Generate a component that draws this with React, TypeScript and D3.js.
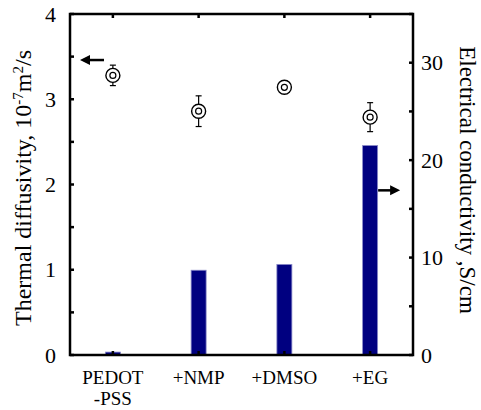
import React, { useEffect, useRef } from 'react'
import * as d3 from 'd3'

const categories = ['PEDOT\n-PSS', '+NMP', '+DMSO', '+EG']
const diffusivity = [3.28, 2.86, 3.14, 2.79]
const diffErr = [0.12, 0.18, 0.04, 0.17]
const conductivity = [0.3, 8.7, 9.3, 21.5]
const leftTicks = [0, 1, 2, 3, 4]
const rightTicks = [0, 10, 20, 30]

function App() {
  const ref = useRef<SVGSVGElement>(null)

  useEffect(() => {
    const w = 481
    const h = 410
    const m = { top: 14, right: 68, bottom: 55, left: 70 }
    const svg = d3.select(ref.current)
    svg.selectAll('*').remove()
    const font = '"Liberation Serif", "Times New Roman", serif'

    const x = d3.scalePoint<string>()
      .domain(categories)
      .range([m.left, w - m.right])
      .padding(0.5)
    const yL = d3.scaleLinear().domain([0, 4]).range([h - m.bottom, m.top])
    const yR = d3.scaleLinear().domain([0, 35]).range([h - m.bottom, m.top])

    // bars (conductivity)
    svg.append('g')
      .selectAll('rect')
      .data(conductivity)
      .join('rect')
      .attr('x', (d, i) => x(categories[i])! - 7.5)
      .attr('width', 15)
      .attr('y', d => yR(d))
      .attr('height', d => yR(0) - yR(d))
      .attr('fill', '#000080')
      .attr('stroke', '#8a8ac8')
      .attr('stroke-width', 0.8)

    // error bars + markers (diffusivity)
    const pts = svg.append('g')
    diffusivity.forEach((d, i) => {
      const cx = x(categories[i])!
      const lo = yL(d - diffErr[i])
      const hi = yL(d + diffErr[i])
      pts.append('line').attr('x1', cx).attr('x2', cx).attr('y1', lo).attr('y2', hi)
        .attr('stroke', 'black').attr('stroke-width', 1.2)
      ;[lo, hi].forEach(yy => pts.append('line')
        .attr('x1', cx - 3).attr('x2', cx + 3).attr('y1', yy).attr('y2', yy)
        .attr('stroke', 'black').attr('stroke-width', 1.2))
      pts.append('circle').attr('cx', cx).attr('cy', yL(d)).attr('r', 7)
        .attr('fill', 'white').attr('stroke', 'black').attr('stroke-width', 1.4)
      pts.append('circle').attr('cx', cx).attr('cy', yL(d)).attr('r', 3)
        .attr('fill', 'white').attr('stroke', 'black').attr('stroke-width', 1.2)
    })

    // frame
    svg.append('rect')
      .attr('x', m.left).attr('y', m.top)
      .attr('width', w - m.left - m.right).attr('height', h - m.top - m.bottom)
      .attr('fill', 'none').attr('stroke', 'black').attr('stroke-width', 2.5)

    const tk = svg.append('g').attr('stroke', 'black').attr('stroke-width', 2.5)
    // left ticks (major + minor)
    d3.range(0, 4.01, 0.5).forEach(v => {
      tk.append('line').attr('x1', m.left).attr('x2', m.left + 4)
        .attr('y1', yL(v)).attr('y2', yL(v))
    })
    // right ticks
    d3.range(0, 35.01, 5).forEach(v => {
      tk.append('line').attr('x1', w - m.right).attr('x2', w - m.right - 4)
        .attr('y1', yR(v)).attr('y2', yR(v))
    })
    // top/bottom ticks at categories
    categories.forEach(c => {
      tk.append('line').attr('x1', x(c)!).attr('x2', x(c)!)
        .attr('y1', h - m.bottom).attr('y2', h - m.bottom - 4)
      tk.append('line').attr('x1', x(c)!).attr('x2', x(c)!)
        .attr('y1', m.top).attr('y2', m.top + 4)
    })

    // tick labels
    svg.append('g').selectAll('text').data(leftTicks).join('text')
      .attr('x', m.left - 14).attr('y', d => yL(d)).attr('dy', '0.35em')
      .attr('text-anchor', 'end').attr('font-family', font).attr('font-size', 22)
      .text(d => d)
    svg.append('g').selectAll('text').data(rightTicks).join('text')
      .attr('x', w - m.right + 8).attr('y', d => yR(d)).attr('dy', '0.35em')
      .attr('text-anchor', 'start').attr('font-family', font).attr('font-size', 22)
      .text(d => d)
    categories.forEach(c => {
      c.split('\n').forEach((s, j) => {
        svg.append('text')
          .attr('x', x(c)!).attr('y', h - m.bottom + 29 + j * 21)
          .attr('text-anchor', 'middle').attr('font-family', font).attr('font-size', 19)
          .text(s)
      })
    })

    // axis titles
    const lt = svg.append('text')
      .attr('transform', `translate(31, 188) rotate(-90)`)
      .attr('text-anchor', 'middle').attr('font-family', font).attr('font-size', 24)
    lt.append('tspan').text('Thermal diffusivity, 10')
    lt.append('tspan').attr('baseline-shift', 'super').attr('font-size', 15).text('-7')
    lt.append('tspan').text('m')
    lt.append('tspan').attr('baseline-shift', 'super').attr('font-size', 15).text('2')
    lt.append('tspan').text('/s')

    svg.append('text')
      .attr('transform', `translate(460, 180) rotate(90)`)
      .attr('text-anchor', 'middle').attr('font-family', font).attr('font-size', 23)
      .text('Electrical conductivity ,S/cm')

    // arrows
    const arrow = (x1: number, x2: number, yy: number) => {
      const dir = Math.sign(x2 - x1)
      svg.append('line').attr('x1', x1).attr('x2', x2 - dir * 6).attr('y1', yy).attr('y2', yy)
        .attr('stroke', 'black').attr('stroke-width', 2.5)
      svg.append('path')
        .attr('d', `M${x2},${yy} L${x2 - dir * 10},${yy - 5} L${x2 - dir * 10},${yy + 5} Z`)
        .attr('fill', 'black')
    }
    arrow(m.left + 34, m.left + 10, yL(3.46))
    arrow(x(categories[3])! + 8, x(categories[3])! + 30, yR(16.9))
  }, [])

  return <svg ref={ref} width={481} height={410} style={{ position: 'absolute', left: 0, top: 0 }} />
}

export default App
